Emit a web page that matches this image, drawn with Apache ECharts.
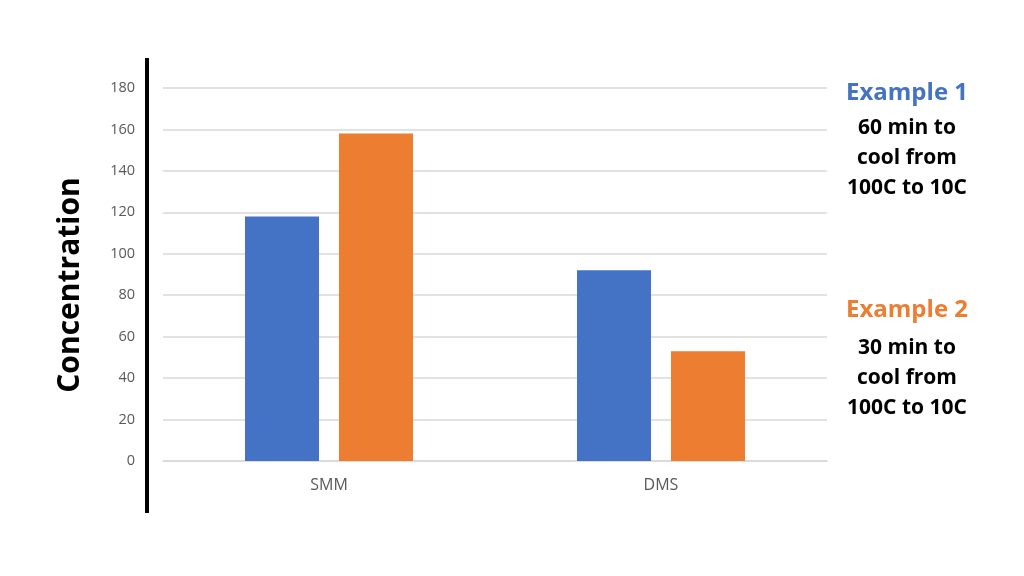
<!DOCTYPE html>
<html>
<head>
  <meta charset="utf-8">
  <title>Concentration</title>
  <style>
    html, body { margin: 0; padding: 0; background: #fff; }
    #main { width: 1024px; height: 576px; }
  </style>
</head>
<body>
  <div id="main"></div>
  <script src="https://cdn.jsdelivr.net/npm/echarts@6/dist/echarts.min.js"></script>
  <script>
    // categories and values
    const categories = ['SMM', 'DMS'];
    const example1 = [118, 92];
    const example2 = [158, 53];
    const yTicks = [0, 180, 20]; // min, max, interval

    const font = '"Open Sans", "Noto Sans", sans-serif';

    const chart = echarts.init(document.getElementById('main'));
    chart.setOption({
      animation: false,
      grid: { left: 163, right: 197, top: 88, bottom: 115 },
      xAxis: {
        type: 'category',
        data: categories,
        axisLine: { show: true, lineStyle: { color: '#d9d9d9', width: 1.5 } },
        axisTick: { show: false },
        axisLabel: { color: '#595959', fontSize: 16, fontFamily: font, margin: 16 }
      },
      yAxis: {
        type: 'value',
        min: yTicks[0],
        max: yTicks[1],
        interval: yTicks[2],
        axisLine: { show: false },
        axisTick: { show: false },
        splitLine: { lineStyle: { color: '#d9d9d9', width: 1.5 } },
        axisLabel: { color: '#595959', fontSize: 14.5, fontFamily: font, margin: 28 }
      },
      series: [
        {
          name: 'Example 1',
          type: 'bar',
          data: example1,
          barWidth: 74,
          barGap: '27%',
          itemStyle: { color: '#4472C4' }
        },
        {
          name: 'Example 2',
          type: 'bar',
          data: example2,
          barWidth: 74,
          itemStyle: { color: '#ED7D31' }
        }
      ],
      graphic: [
        // thick black line left of the plot
        {
          type: 'line',
          shape: { x1: 147, y1: 58, x2: 147, y2: 513 },
          style: { stroke: '#000', lineWidth: 4 }
        },
        {
          type: 'text',
          x: 70, y: 285,
          rotation: Math.PI / 2,
          style: {
            text: 'Concentration',
            fill: '#000',
            font: 'bold 30px ' + font,
            textAlign: 'center',
            textVerticalAlign: 'middle'
          }
        },
        {
          type: 'text',
          x: 907, y: 93,
          style: {
            text: 'Example 1',
            fill: '#4472C4',
            font: 'bold 24px ' + font,
            textAlign: 'center',
            textVerticalAlign: 'middle'
          }
        },
        {
          type: 'text',
          x: 907, y: 158,
          style: {
            text: '60 min to\ncool from\n100C to 10C',
            fill: '#000',
            font: 'bold 21px ' + font,
            lineHeight: 30,
            textAlign: 'center',
            textVerticalAlign: 'middle'
          }
        },
        {
          type: 'text',
          x: 907, y: 310,
          style: {
            text: 'Example 2',
            fill: '#ED7D31',
            font: 'bold 24px ' + font,
            textAlign: 'center',
            textVerticalAlign: 'middle'
          }
        },
        {
          type: 'text',
          x: 907, y: 378,
          style: {
            text: '30 min to\ncool from\n100C to 10C',
            fill: '#000',
            font: 'bold 21px ' + font,
            lineHeight: 30,
            textAlign: 'center',
            textVerticalAlign: 'middle'
          }
        }
      ]
    });
  </script>
</body>
</html>
